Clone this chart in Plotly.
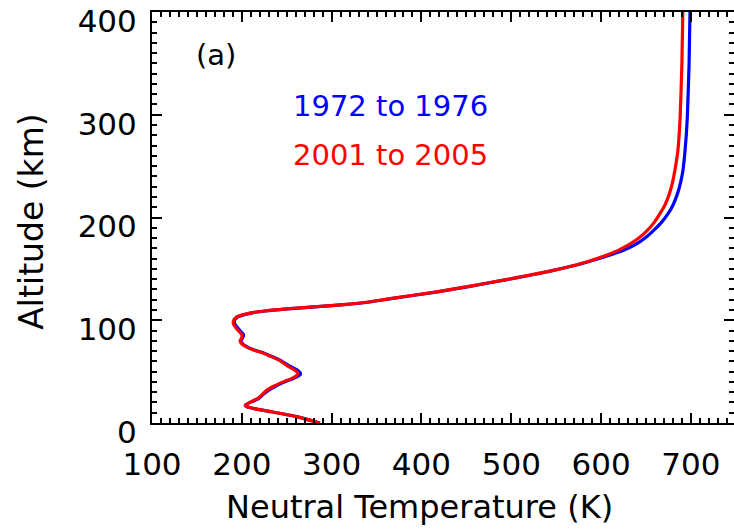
import plotly.graph_objects as go

# Altitude (km) and neutral temperature (K)
alt_red = [0, 6, 11, 14, 16, 17.5, 19, 21, 24, 28, 32, 36, 40, 44, 47, 49, 52, 56, 61, 65, 68,
           71, 74, 77, 80, 83, 86, 89, 93, 97, 100, 103, 105, 107, 109, 111, 113, 115, 118,
           121, 127.6, 133, 139, 144, 148.6, 155, 162, 168, 174, 180, 187, 195, 203, 212, 223,
           234, 245, 265, 297, 350, 400]
temp_red = [287, 262, 233, 214, 205, 204, 207, 211, 218, 223, 228, 236, 246, 257, 262, 262, 258,
            250, 242, 232, 224, 213, 205, 200, 198, 200, 200, 197, 193, 190.5, 191, 194, 200,
            209, 225, 250, 280, 310, 343, 365, 417, 453, 491, 521, 547, 577, 602, 619, 632, 642,
            651, 659, 665, 671, 676, 679.5, 682, 685.5, 688, 690, 691]

alt_blue = alt_red
temp_blue = [287, 262, 233, 214, 205, 204, 207, 212, 219, 224, 230, 238, 248, 259, 265, 265, 261,
             252, 243, 233, 225, 214, 206, 201, 199, 201, 202, 199, 195, 192, 192, 195, 201,
             210, 226, 251, 281, 311, 344, 366, 418, 454, 492, 522, 547, 578, 605, 625, 639, 649,
             658, 667, 674, 680, 685, 688.5, 691, 693.5, 696, 698, 699]

x_ticks = [100, 200, 300, 400, 500, 600, 700]
y_ticks = [0, 100, 200, 300, 400]

label_blue = "1972 to 1976"
label_red = "2001 to 2005"

FONT = "DejaVu Sans"

fig = go.Figure()
fig.add_trace(go.Scatter(x=temp_blue, y=alt_blue, mode="lines",
                         line=dict(color="#0000ff", width=3.2, shape="spline", smoothing=0.5),
                         name=label_blue, showlegend=False))
fig.add_trace(go.Scatter(x=temp_red, y=alt_red, mode="lines",
                         line=dict(color="#ff0000", width=3.2, shape="spline", smoothing=0.5),
                         name=label_red, showlegend=False))

axis_common = dict(
    showgrid=False, zeroline=False, showline=True, linecolor="black", linewidth=2,
    mirror="ticks", ticks="inside", ticklen=10, tickwidth=2, tickcolor="black",
    automargin=False, ticklabeloverflow="allow",
    tickfont=dict(family=FONT, size=31, color="black"),
    minor=dict(ticks="inside", ticklen=5, tickwidth=2, tickcolor="black", dtick=10),
)

fig.update_xaxes(range=[100, 748], tickvals=x_ticks, ticktext=[str(v) for v in x_ticks],
                 ticklabelstandoff=13, **axis_common)
fig.update_yaxes(range=[0, 400.02], tickvals=y_ticks, ticktext=[str(v) for v in y_ticks],
                 ticklabelstandoff=7, ticklabelshift=9, **axis_common)

fig.add_annotation(text="Neutral Temperature (K)", xref="paper", yref="paper", x=0.4596, y=-0.205,
                   xanchor="center", yanchor="middle", showarrow=False,
                   font=dict(family=FONT, size=32, color="black"))
fig.add_annotation(text="Altitude (km)", xref="paper", yref="paper", x=-0.206, y=0.49,
                   xanchor="center", yanchor="middle", textangle=-90, showarrow=False,
                   font=dict(family=FONT, size=33, color="black"))
fig.add_annotation(text="(a)", xref="paper", yref="paper", x=0.110, y=0.8955,
                   xanchor="center", yanchor="middle", showarrow=False,
                   font=dict(family=FONT, size=29, color="black"))
fig.add_annotation(text=label_blue, xref="paper", yref="paper", x=0.409, y=0.7716,
                   xanchor="center", yanchor="middle", showarrow=False,
                   font=dict(family=FONT, size=29, color="#0000ff"))
fig.add_annotation(text=label_red, xref="paper", yref="paper", x=0.409, y=0.6525,
                   xanchor="center", yanchor="middle", showarrow=False,
                   font=dict(family=FONT, size=29, color="#ff0000"))

fig.update_layout(width=734, height=532, margin=dict(l=152, r=0, t=12, b=109),
                  paper_bgcolor="white", plot_bgcolor="white")

# remove the browser's default 8px body margin so the figure fills the window exactly
fig.write_html("out.html", config={"displayModeBar": False},
               post_script="document.body.style.margin='0';document.body.style.overflow='hidden';")
